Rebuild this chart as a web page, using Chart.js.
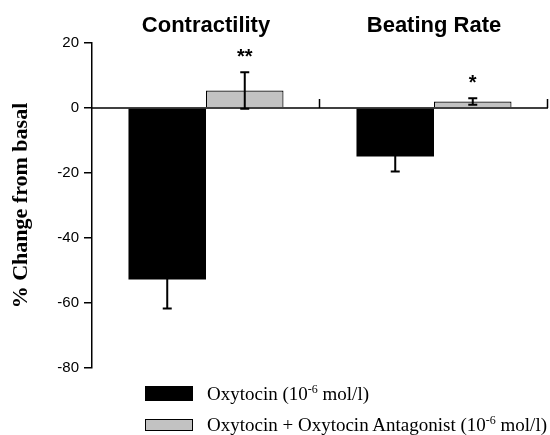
<!DOCTYPE html>
<html>
<head>
<meta charset="utf-8">
<script src="https://cdn.jsdelivr.net/npm/chart.js@4/dist/chart.umd.min.js"></script>
<style>
  html, body { margin: 0; padding: 0; background: #fff; }
  #wrap { position: relative; width: 550px; height: 435px; }
  #legend { position: absolute; left: 145px; top: 385px; font-family: "Liberation Serif", "Times New Roman", serif; font-size: 19px; color: #000; }
  .row { display: flex; align-items: center; height: 17px; margin-bottom: 14px; }
  .box { width: 48px; box-sizing: border-box; margin-right: 14px; }
  sup { font-size: 12px; vertical-align: 7px; line-height: 0; }
</style>
</head>
<body>
<div id="wrap">
  <canvas id="c"></canvas>
  <div id="legend"></div>
</div>
<script>
// ---- data ----
const categories = ['Contractility', 'Beating Rate'];
const seriesNames = ['Oxytocin (10<sup>-6</sup> mol/l)', 'Oxytocin + Oxytocin Antagonist (10<sup>-6</sup> mol/l)'];
const seriesLabels = ['Oxytocin (10⁻⁶ mol/l)', 'Oxytocin + Oxytocin Antagonist (10⁻⁶ mol/l)'];
const oxytocin = [-52.8, -14.9];
const oxytocinErr = [8.9, 4.6];
const antagonist = [5.4, 2.0];
const antagonistErr = [5.6, 1.0];
const antagonistSig = ['**', '*'];
const yTicks = [20, 0, -20, -40, -60, -80];

const colors = ['#000000', '#c2c2c2'];
const errors = [oxytocinErr, antagonistErr];
const sigs = [null, antagonistSig];

const errorBarPlugin = {
  id: 'errorBars',
  afterDatasetsDraw(chart) {
    const ctx = chart.ctx;
    const y = chart.scales.y;
    const x = chart.scales.x;
    const area = chart.chartArea;
    ctx.save();
    // zero line
    const y0 = y.getPixelForValue(0);
    ctx.strokeStyle = '#000';
    ctx.lineWidth = 1.5;
    ctx.beginPath();
    ctx.moveTo(area.left, y0);
    ctx.lineTo(area.right, y0);
    ctx.stroke();
    // upward ticks at category boundaries
    for (let i = 0; i < categories.length; i++) {
      const bx = Math.round(x.getPixelForValue(i + 0.5)) - 0.5;
      ctx.beginPath();
      ctx.moveTo(bx, y0);
      ctx.lineTo(bx, y0 - 9);
      ctx.stroke();
    }
    chart.data.datasets.forEach((ds, di) => {
      const meta = chart.getDatasetMeta(di);
      meta.data.forEach((bar, i) => {
        const v = ds.data[i];
        const e = errors[di][i];
        const cx = bar.x;
        const yt = y.getPixelForValue(v + e);
        const yb = y.getPixelForValue(v - e);
        ctx.strokeStyle = '#000';
        ctx.lineWidth = 2;
        ctx.beginPath();
        ctx.moveTo(cx, yt); ctx.lineTo(cx, yb);
        ctx.moveTo(cx - 4.5, yt); ctx.lineTo(cx + 4.5, yt);
        ctx.moveTo(cx - 4.5, yb); ctx.lineTo(cx + 4.5, yb);
        ctx.stroke();
        if (sigs[di] && sigs[di][i]) {
          ctx.fillStyle = '#000';
          ctx.font = 'bold 20px "Liberation Sans", Arial, sans-serif';
          ctx.textAlign = 'center';
          ctx.textBaseline = 'alphabetic';
          const top = Math.min(yt, y.getPixelForValue(v));
          ctx.fillText(sigs[di][i], cx, top - 9);
        }
      });
    });
    ctx.restore();
  }
};

new Chart(document.getElementById('c'), {
  type: 'bar',
  data: {
    labels: categories,
    datasets: [
      { label: seriesLabels[0], data: oxytocin, backgroundColor: colors[0], borderColor: '#000', borderWidth: 0 },
      { label: seriesLabels[1], data: antagonist, backgroundColor: colors[1], borderColor: '#000', borderWidth: 1.2 }
    ]
  },
  options: {
    responsive: true,
    maintainAspectRatio: false,
    animation: false,
    layout: { padding: { top: 4, right: 2, bottom: 67, left: 0 } },
    plugins: { legend: { display: false }, tooltip: { enabled: false } },
    datasets: { bar: { barPercentage: 1, categoryPercentage: 0.68 } },
    scales: {
      x: {
        position: 'top',
        afterFit(scale) { scale.height = 39; },
        grid: { display: false, drawTicks: false, tickLength: 0 },
        border: { display: false },
        ticks: { color: '#000', padding: 4, font: { family: '"Liberation Sans", Arial, sans-serif', size: 22, weight: 'bold' } }
      },
      y: {
        min: -80, max: 20,
        afterBuildTicks(scale) { scale.ticks = yTicks.map(v => ({ value: v })); },
        afterFit(scale) { scale.width = 92; },
        grid: { drawOnChartArea: false, drawTicks: true, tickLength: 8, color: '#000', lineWidth: 1.5 },
        border: { display: true, color: '#000', width: 1.5 },
        ticks: { color: '#000', padding: 5, font: { family: '"Liberation Sans", Arial, sans-serif', size: 15 } },
        title: { display: true, text: '% Change from basal', color: '#000', padding: { top: 8, bottom: 0 },
                 font: { family: '"Liberation Serif", "Times New Roman", serif', size: 22, weight: 'bold' } }
      }
    }
  },
  plugins: [errorBarPlugin]
});

// HTML legend built from the series
const legend = document.getElementById('legend');
seriesNames.forEach((name, i) => {
  const row = document.createElement('div');
  row.className = 'row';
  const box = document.createElement('div');
  box.className = 'box';
  box.style.background = colors[i];
  box.style.height = i === 0 ? '15px' : '12px';
  if (i === 1) box.style.border = '1px solid #000';
  const txt = document.createElement('span');
  txt.innerHTML = name;
  row.appendChild(box);
  row.appendChild(txt);
  legend.appendChild(row);
});
</script>
</body>
</html>
